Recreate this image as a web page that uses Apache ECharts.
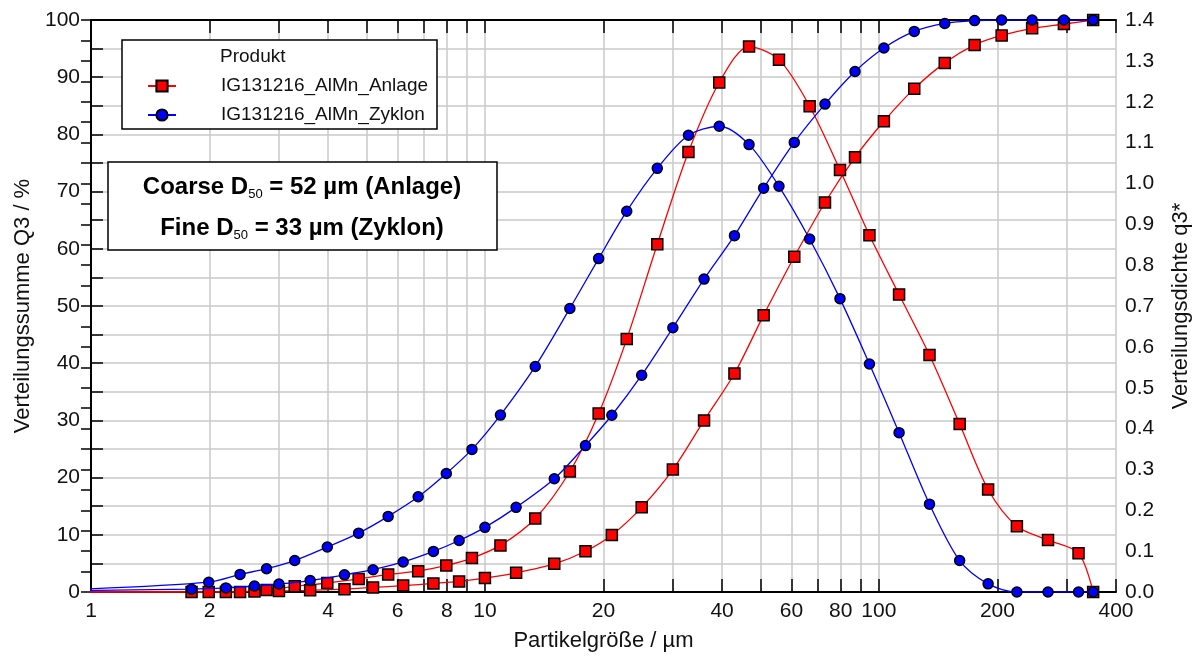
<!DOCTYPE html>
<html>
<head>
<meta charset="utf-8">
<script src="https://cdn.jsdelivr.net/npm/echarts@6/dist/echarts.min.js"></script>
<style>
html,body{margin:0;padding:0;background:#fff;}
#chart{width:1200px;height:657px;}
</style>
</head>
<body>
<div id="chart"></div>
<script>
// ---- data (particle size in µm) ----
const sizesQ3 = [0.5, 1.8, 2.2, 2.6, 3.0, 3.6, 4.4, 5.2, 6.2, 7.4, 8.6, 10, 12, 15, 18, 21, 25, 30, 36, 43, 51, 61, 73, 87, 103, 123, 147, 175, 205, 245, 295, 350];
const sizesq3 = [0.95, 1.99, 2.39, 2.79, 3.29, 3.98, 4.78, 5.68, 6.77, 7.98, 9.27, 10.95, 13.42, 16.43, 19.44, 22.91, 27.39, 32.86, 39.34, 46.83, 55.78, 66.73, 79.69, 94.66, 112.56, 134.47, 160.39, 189.41, 224.11, 268.84, 321.33, 350];
const anlageQ3 = [0, 0, 0.02, 0.1, 0.17, 0.3, 0.5, 0.8, 1.12, 1.5, 1.85, 2.43, 3.36, 4.93, 7.13, 9.97, 14.8, 21.4, 30.0, 38.2, 48.4, 58.6, 68.1, 76.0, 82.3, 88.0, 92.5, 95.65, 97.3, 98.55, 99.3, 100];
const anlageq3 = [0, 0, 0, 0.005, 0.014, 0.022, 0.032, 0.043, 0.051, 0.065, 0.083, 0.114, 0.18, 0.295, 0.437, 0.619, 0.851, 1.077, 1.247, 1.335, 1.303, 1.189, 1.033, 0.873, 0.728, 0.58, 0.411, 0.251, 0.161, 0.127, 0.095, 0];
const zyklonQ3 = [0, 0.5, 0.72, 1.05, 1.4, 2.0, 3.0, 3.9, 5.25, 7.1, 9.0, 11.3, 14.8, 19.8, 25.6, 30.9, 37.9, 46.2, 54.7, 62.3, 70.6, 78.6, 85.3, 91.0, 95.1, 98.0, 99.4, 99.9, 100, 100, 100, 100];
const zyklonq3 = [0.007, 0.024, 0.043, 0.057, 0.077, 0.11, 0.144, 0.185, 0.233, 0.29, 0.349, 0.433, 0.552, 0.694, 0.816, 0.932, 1.037, 1.118, 1.14, 1.095, 0.993, 0.864, 0.718, 0.558, 0.39, 0.215, 0.077, 0.02, 0, 0, 0, 0];
const tickSizes = [1, 2, 3, 4, 5, 6, 7, 8, 9, 10, 20, 30, 40, 50, 60, 70, 80, 90, 100, 200, 300, 400];
const labelSizes = [1, 2, 4, 6, 8, 10, 20, 40, 60, 80, 100, 200, 400];
const xMin = 1, xMax = 400;
const nameAnlage = 'IG131216_AlMn_Anlage';
const nameZyklon = 'IG131216_AlMn_Zyklon';

// log10 transform for a value axis (log-scaled particle size axis)
const lg = v => Math.log10(v);
const pairs = (xs, ys) => xs.map((x, i) => [lg(x), ys[i]]);

const FONT = "'Liberation Sans', Arial, sans-serif";
const RED = '#ff0000', BLUE = '#0000ff';

const xAxisBase = {
  type: 'value', min: lg(xMin), max: lg(xMax),
  axisLine: {show: true, onZero: false, lineStyle: {color: '#000', width: 2}},
  axisTick: {show: true, inside: true, length: 13, customValues: tickSizes.map(lg), lineStyle: {color: '#000', width: 1.5}}
};

const chart = echarts.init(document.getElementById('chart'), null, {renderer: 'canvas'});
const option = {
  animation: false,
  textStyle: {fontFamily: FONT},
  grid: {left: 91, right: 80, top: 20, bottom: 62, containLabel: false},
  legend: {
    data: [nameAnlage, nameZyklon],
    orient: 'vertical', left: 147, top: 76, padding: 0,
    itemWidth: 28, itemHeight: 14, itemGap: 9,
    textStyle: {fontSize: 19, color: '#111', fontFamily: FONT, padding: [0, 0, 0, 40], lineHeight: 20},
    selectedMode: false
  },
  xAxis: [
    Object.assign({}, xAxisBase, {
      position: 'bottom',
      name: 'Partikelgröße / µm', nameLocation: 'middle', nameGap: 38,
      nameTextStyle: {fontSize: 22, color: '#111', fontFamily: FONT},
      axisLabel: {show: true, margin: 9, fontSize: 21, color: '#111', fontFamily: FONT,
        customValues: labelSizes.map(lg),
        formatter: v => String(Math.round(Math.pow(10, v)))},
      splitLine: {show: true, lineStyle: {color: '#c8c8c8', width: 1.5}}
    }),
    Object.assign({}, xAxisBase, {
      position: 'top', axisLabel: {show: false}, splitLine: {show: false}
    })
  ],
  yAxis: [
    {
      type: 'value', min: 0, max: 100, interval: 5, position: 'left',
      name: 'Verteilungssumme Q3 / %', nameLocation: 'middle', nameGap: 56, nameRotate: 90,
      nameTextStyle: {fontSize: 22, color: '#111', fontFamily: FONT},
      axisLine: {show: true, lineStyle: {color: '#000', width: 2}},
      axisTick: {show: true, inside: true, length: 12, lineStyle: {color: '#000', width: 1.5}},
      axisLabel: {margin: 11, fontSize: 21, color: '#111', fontFamily: FONT,
        formatter: v => (Math.round(v) % 10 === 0 ? String(Math.round(v)) : '')},
      splitLine: {show: true, lineStyle: {color: '#c8c8c8', width: 1.5}}
    },
    {
      type: 'value', min: 0, max: 1.4, interval: 0.05, position: 'right',
      name: 'Verteilungsdichte q3*', nameLocation: 'middle', nameGap: 54, nameRotate: 90,
      nameTextStyle: {fontSize: 22, color: '#111', fontFamily: FONT},
      axisLine: {show: true, lineStyle: {color: '#000', width: 2}},
      axisTick: {show: true, inside: true, length: 10, lineStyle: {color: '#000', width: 1.5}},
      axisLabel: {margin: 9, fontSize: 21, color: '#111', fontFamily: FONT,
        formatter: v => (Math.abs(v * 10 - Math.round(v * 10)) < 1e-6 ? v.toFixed(1) : '')},
      splitLine: {show: false}
    }
  ],
  graphic: [
    {type: 'rect', z: 1, shape: {x: 122, y: 40, width: 315, height: 89},
     style: {fill: '#fff', stroke: '#000', lineWidth: 1.5}},
    {type: 'text', z: 5, x: 220, y: 57,
     style: {text: 'Produkt', font: "19px " + FONT, fill: '#111', textVerticalAlign: 'middle'}},
    {type: 'rect', z: 1, shape: {x: 108, y: 162, width: 389, height: 88},
     style: {fill: '#fff', stroke: '#000', lineWidth: 1.5}},
    {type: 'text', z: 5, x: 302, y: 187,
     style: {
       text: '{b|Coarse D}{s|50}{b| = 52 µm (Anlage)}',
       textAlign: 'center', textVerticalAlign: 'middle',
       rich: {
         b: {fontSize: 24, fontWeight: 'bold', fontFamily: FONT, fill: '#000', lineHeight: 28},
         s: {fontSize: 13, fontFamily: FONT, fill: '#000', lineHeight: 16, verticalAlign: 'bottom'}
       }
     }},
    {type: 'text', z: 5, x: 302, y: 228,
     style: {
       text: '{b|Fine D}{s|50}{b| = 33 µm (Zyklon)}',
       textAlign: 'center', textVerticalAlign: 'middle',
       rich: {
         b: {fontSize: 24, fontWeight: 'bold', fontFamily: FONT, fill: '#000', lineHeight: 28},
         s: {fontSize: 13, fontFamily: FONT, fill: '#000', lineHeight: 16, verticalAlign: 'bottom'}
       }
     }}
  ],
  series: [
    {name: nameAnlage, type: 'line', xAxisIndex: 0, yAxisIndex: 0, data: pairs(sizesQ3, anlageQ3),
     smooth: 0.3, symbol: 'rect', symbolSize: 11, z: 3,
     lineStyle: {color: RED, width: 1.3}, itemStyle: {color: RED, borderColor: '#000', borderWidth: 1.5}},
    {name: nameAnlage, type: 'line', xAxisIndex: 0, yAxisIndex: 1, data: pairs(sizesq3, anlageq3),
     smooth: 0.3, symbol: 'rect', symbolSize: 11, z: 3,
     lineStyle: {color: RED, width: 1.3}, itemStyle: {color: RED, borderColor: '#000', borderWidth: 1.5}},
    {name: nameZyklon, type: 'line', xAxisIndex: 0, yAxisIndex: 0, data: pairs(sizesQ3, zyklonQ3),
     smooth: 0.3, symbol: 'circle', symbolSize: 10, z: 4,
     lineStyle: {color: BLUE, width: 1.3}, itemStyle: {color: BLUE, borderColor: '#000', borderWidth: 1.5}},
    {name: nameZyklon, type: 'line', xAxisIndex: 0, yAxisIndex: 1, data: pairs(sizesq3, zyklonq3),
     smooth: 0.3, symbol: 'circle', symbolSize: 10, z: 4,
     lineStyle: {color: BLUE, width: 1.3}, itemStyle: {color: BLUE, borderColor: '#000', borderWidth: 1.5}}
  ]
};
chart.setOption(option);
</script>
</body>
</html>
